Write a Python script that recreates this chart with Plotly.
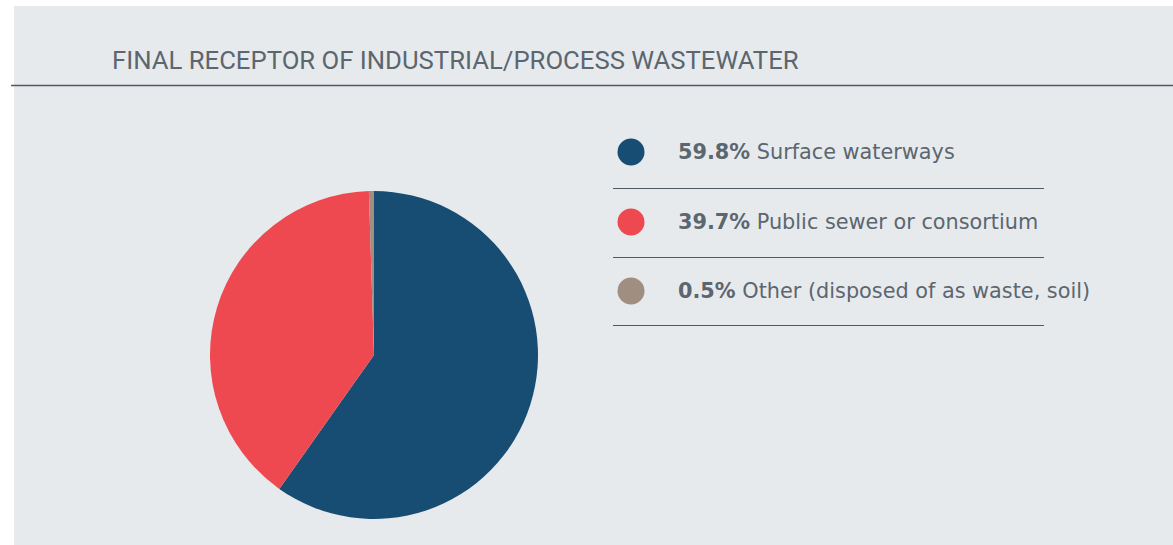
import plotly.graph_objects as go

# Data
labels = ["Surface waterways", "Public sewer or consortium", "Other (disposed of as waste, soil)"]
shares = [59.8, 39.7, 0.5]
colors = ["#174d72", "#ee4950", "#a08e80"]
title_text = "FINAL RECEPTOR OF INDUSTRIAL/PROCESS WASTEWATER"

W, H = 1173, 545
TITLE_FONT = "Roboto, Arial, sans-serif"
BODY_FONT = "DejaVu Sans, Verdana, sans-serif"
TEXT_COLOR = "#5b666f"
RULE_COLOR = "#4f5962"

# Pie placement in pixels (centre and radius)
cx, cy, r = 374, 355, 164

fig = go.Figure()

fig.add_trace(go.Pie(
    labels=labels,
    values=shares,
    marker=dict(colors=colors, line=dict(width=0)),
    sort=False,
    direction="clockwise",
    rotation=0,
    textinfo="none",
    showlegend=False,
    hovertemplate="%{label}: %{value}%<extra></extra>",
    domain=dict(x=[(cx - r) / W, (cx + r) / W], y=[(H - cy - r) / H, (H - cy + r) / H]),
))

# Legend rows
row_y = [152, 222, 291]
rule_y = [188.5, 257.5, 325.5]
dot_x = 631
text_x = 676

fig.add_trace(go.Scatter(
    x=[dot_x] * len(labels),
    y=row_y,
    mode="markers",
    marker=dict(size=27, color=colors, line=dict(width=0)),
    showlegend=False,
    hoverinfo="skip",
    xaxis="x", yaxis="y",
))

annotations = [
    dict(
        x=110, y=59.5, xref="x", yref="y", xanchor="left", yanchor="middle",
        text=title_text, showarrow=False,
        font=dict(family=TITLE_FONT, size=25.7, color=TEXT_COLOR),
    )
]
for lab, val, yy in zip(labels, shares, row_y):
    annotations.append(dict(
        x=text_x, y=yy, xref="x", yref="y", xanchor="left", yanchor="middle",
        text=f"<b>{val:.1f}%</b> {lab}", showarrow=False,
        font=dict(family=BODY_FONT, size=20.8, color=TEXT_COLOR),
    ))

shapes = [
    # panel background
    dict(type="rect", xref="x", yref="y", x0=14, x1=W, y0=6, y1=H,
         fillcolor="#e7eaed", line=dict(width=0), layer="below"),
    # header rule
    dict(type="line", xref="x", yref="y", x0=11, x1=W, y0=85.5, y1=85.5,
         line=dict(color=RULE_COLOR, width=1.3)),
]
for yy in rule_y:
    shapes.append(dict(type="line", xref="x", yref="y", x0=613, x1=1044, y0=yy, y1=yy,
                       line=dict(color=RULE_COLOR, width=1)))

fig.update_layout(
    width=W, height=H,
    margin=dict(l=0, r=0, t=0, b=0),
    paper_bgcolor="white",
    plot_bgcolor="rgba(0,0,0,0)",
    xaxis=dict(range=[0, W], visible=False, fixedrange=True, domain=[0, 1]),
    yaxis=dict(range=[H, 0], visible=False, fixedrange=True, domain=[0, 1]),
    shapes=shapes,
    annotations=annotations,
    font=dict(family=BODY_FONT),
)

fig.write_html("out.html", config={"displayModeBar": False})
